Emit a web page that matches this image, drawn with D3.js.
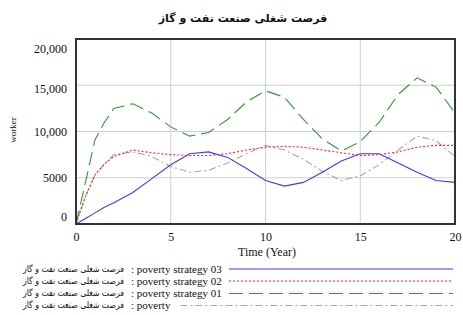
<!DOCTYPE html>
<html>
<head>
<meta charset="utf-8">
<script src="https://d3js.org/d3.v7.min.js"></script>
<style>
  body { margin: 0; background: #fff; }
  text { font-family: "Liberation Serif", "Times New Roman", "DejaVu Serif", serif; fill: #111; }
</style>
</head>
<body>
<script>
// chart data (worker, per year)
var years = [0, 0.5, 1, 1.5, 2, 3, 4, 5, 6, 7, 8, 9, 10, 11, 12, 13, 14, 15, 16, 17, 18, 19, 20];
var strategy03 = [0, 600, 1200, 1800, 2300, 3400, 4900, 6400, 7600, 7800, 7200, 6000, 4700, 4100, 4500, 5600, 6800, 7600, 7600, 6600, 5600, 4700, 4500];
var strategy02 = [0, 3000, 5300, 6500, 7300, 8000, 7700, 7500, 7400, 7400, 7600, 8000, 8300, 8400, 8300, 8000, 7700, 7400, 7500, 7800, 8300, 8500, 8500];
var strategy01 = [0, 4500, 9100, 11000, 12500, 13000, 12000, 10500, 9500, 9900, 11300, 13200, 14400, 13700, 11300, 9200, 7900, 8900, 11000, 14000, 15800, 14800, 12000];
var poverty = [0, 3000, 5300, 6500, 7500, 7800, 7300, 6200, 5600, 5800, 6600, 7600, 8500, 8000, 7000, 5700, 4700, 5200, 6400, 8000, 9500, 9000, 7300];

var xTicks = [0, 5, 10, 15, 20];
var yTicks = [0, 5000, 10000, 15000, 20000];
var yTickLabels = ["0", "5000", "10,000", "15,000", "20,000"];

var title = "فرصت شغلی صنعت نفت و گاز";
var seriesNames = ["poverty strategy 03", "poverty strategy 02", "poverty strategy 01", "poverty"];

var width = 463;
var height = 315;
// plot box edges (named so they don't clash with window.top)
var plotL = 76, plotR = 455, plotT = 39, plotB = 224;

var svg = d3.select("body").append("svg")
  .attr("width", width)
  .attr("height", height);

var xScale = d3.scaleLinear().domain([0, 20]).range([plotL, plotR]);
var yScale = d3.scaleLinear().domain([0, 20000]).range([plotB, plotT]);

// title
svg.append("text")
  .attr("x", 243)
  .attr("y", 22)
  .attr("text-anchor", "middle")
  .style("font-family", "'DejaVu Sans', sans-serif")
  .style("font-size", "11px")
  .style("font-weight", "bold")
  .text(title);

// grid lines
svg.append("g").selectAll("line")
  .data(xTicks.slice(1, -1))
  .join("line")
  .attr("x1", d => xScale(d)).attr("x2", d => xScale(d))
  .attr("y1", plotT).attr("y2", plotB)
  .attr("stroke", "#cfcfcf").attr("stroke-width", 1);

svg.append("g").selectAll("line")
  .data(yTicks.slice(1, -1))
  .join("line")
  .attr("x1", plotL).attr("x2", plotR)
  .attr("y1", d => yScale(d)).attr("y2", d => yScale(d))
  .attr("stroke", "#cfcfcf").attr("stroke-width", 1);

// axes (labels only, frame drawn below)
var xAxis = d3.axisBottom(xScale).tickValues(xTicks).tickSize(0).tickPadding(8);
var gx = svg.append("g").attr("transform", "translate(0," + plotB + ")").call(xAxis);
gx.attr("font-family", null);
gx.select(".domain").remove();
gx.selectAll("text").style("font-size", "12px").attr("fill", "#111");

var yAxis = d3.axisLeft(yScale).tickValues(yTicks).tickSize(0).tickPadding(9)
  .tickFormat((d, i) => yTickLabels[i]);
var gy = svg.append("g").attr("transform", "translate(" + plotL + ",0)").call(yAxis);
gy.attr("font-family", null);
gy.select(".domain").remove();
gy.selectAll("text").style("font-size", "12px").attr("fill", "#111")
  .attr("dy", d => d == 20000 ? "1.1em" : d == 0 ? "-0.3em" : d == 15000 ? "0.6em" : "0.32em");

// axis titles
svg.append("text")
  .attr("x", 267).attr("y", 256)
  .attr("text-anchor", "middle")
  .style("font-size", "12px")
  .text("Time (Year)");

svg.append("text")
  .attr("transform", "translate(16,130) rotate(-90)")
  .attr("text-anchor", "middle")
  .style("font-size", "9px")
  .text("worker");

// series
var styles = [
  { values: strategy03, color: "#3a3aff", dash: null, w: 1.1 },
  { values: strategy02, color: "#ff2020", dash: "2,2", w: 1.1 },
  { values: strategy01, color: "#2f9a2f", dash: "14,6", w: 1.1 },
  { values: poverty, color: "#a8a8a8", dash: "7,3,2,3", w: 1.1 }
];

var line = d3.line()
  .x((d, i) => xScale(years[i]))
  .y(d => yScale(d));

// draw back to front so strategy 03 sits on top
styles.slice().reverse().forEach(function(s) {
  svg.append("path")
    .datum(s.values)
    .attr("d", line)
    .attr("fill", "none")
    .attr("stroke", s.color)
    .attr("stroke-width", s.w)
    .attr("stroke-dasharray", s.dash);
});

// frame
svg.append("rect")
  .attr("x", plotL).attr("y", plotT)
  .attr("width", plotR - plotL).attr("height", plotB - plotT)
  .attr("fill", "none")
  .attr("stroke", "#333").attr("stroke-width", 2);

// legend: persian name on the left, english series name after the colon, line after the text
var legendY = [269, 281, 293.5, 305.5];
var legend = svg.append("g").selectAll("g")
  .data(styles)
  .join("g")
  .attr("transform", (d, i) => "translate(0," + legendY[i] + ")");

legend.append("text")
  .attr("x", 23).attr("y", 0).attr("dy", "0.32em")
  .attr("text-anchor", "start")
  .attr("textLength", 101)
  .attr("lengthAdjust", "spacingAndGlyphs")
  .style("font-family", "'DejaVu Sans', sans-serif")
  .style("font-size", "9px")
  .text(title);

var names = legend.append("text")
  .attr("x", 131).attr("y", 0).attr("dy", "0.32em")
  .attr("text-anchor", "start")
  .style("font-size", "11px")
  .text((d, i) => ": " + seriesNames[i]);

legend.append("line")
  .attr("x1", function(d, i) { return i < 3 ? 229 : 131 + names.nodes()[i].getComputedTextLength() + 10; })
  .attr("x2", 453)
  .attr("y1", 0).attr("y2", 0)
  .attr("stroke", d => d.color)
  .attr("stroke-width", 1.2)
  .attr("stroke-dasharray", d => d.dash);
</script>
</body>
</html>
